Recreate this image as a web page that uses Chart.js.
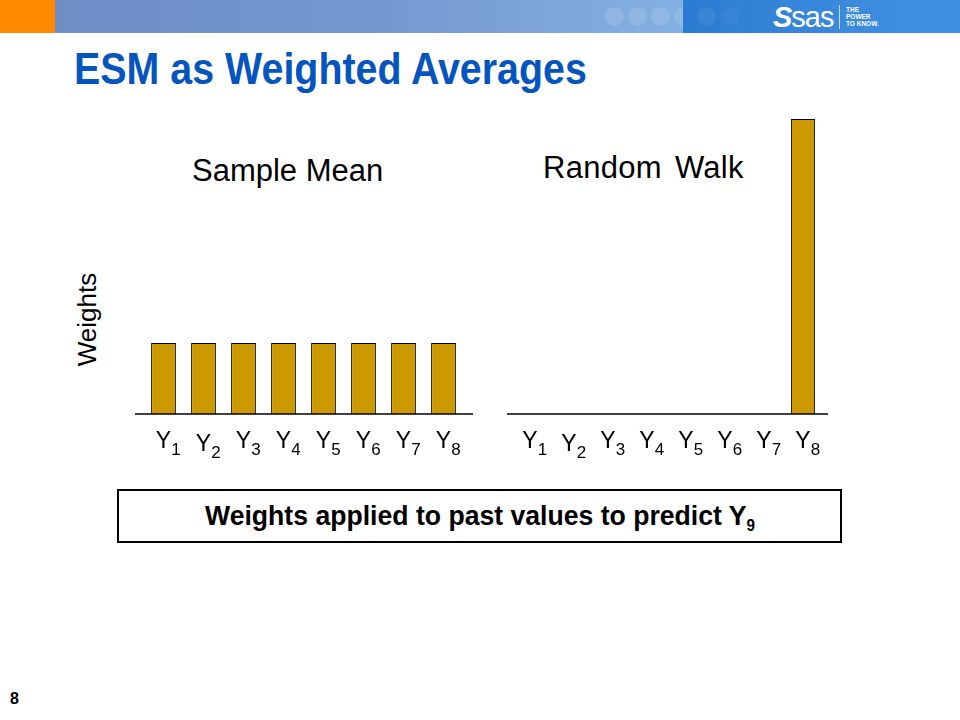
<!DOCTYPE html>
<html>
<head>
<meta charset="utf-8">
<script src="https://cdn.jsdelivr.net/npm/chart.js@4.4.1/dist/chart.umd.min.js"></script>
<style>
  body { margin: 0; width: 960px; height: 720px; background: #fff; position: relative; overflow: hidden;
         font-family: 'Liberation Sans', Arial, sans-serif; }
  .band { position: absolute; left: 0; top: 0; width: 960px; height: 33px;
          background: linear-gradient(90deg, #6b8bc3 0%, #7598d0 40%, #83b0e2 70%); }
  .band .orange { position: absolute; left: 0; top: 0; width: 55px; height: 33px; background: #ff8a00; }
  .band .bright { position: absolute; left: 683px; top: 0; width: 277px; height: 33px;
                  background: linear-gradient(90deg, #2b7bd2, #3a8ade 60%, #3f8fe2); }
  .band .dot { position: absolute; top: 7px; width: 19px; height: 19px; border-radius: 50%;
               background: rgba(255,255,255,0.12); }
  .logo { position: absolute; left: 773px; top: 1px; color: #fff; font-size: 29px; letter-spacing: -1px; }
  .logo .swirl { font-style: italic; font-weight: bold; }
  .tag { position: absolute; left: 846px; top: 6px; color: #fff; font-size: 6.5px; font-weight: bold; line-height: 7px; }
  .sep { position: absolute; left: 839px; top: 5px; width: 1px; height: 24px; background: rgba(255,255,255,0.7); }
  .title { position: absolute; left: 74px; top: 44px; font-size: 44px; font-weight: bold; color: #0555c0;
           transform: scaleX(0.895); transform-origin: left top; white-space: nowrap; }
  .sub { position: absolute; font-size: 31px; color: #000; white-space: nowrap; }
  .ylab { position: absolute; left: 62px; top: 304px; font-size: 26px; transform: rotate(-90deg);
          transform-origin: center; width: 120px; margin-left: -35px; text-align: center; }
  canvas { position: absolute; }
  .box { position: absolute; left: 117px; top: 489px; width: 721px; height: 50px; border: 2.5px solid #000; }
  .box span { position: absolute; left: 50%; top: 9px; font-weight: bold; font-size: 28px; white-space: nowrap;
              transform: translateX(-50%) scaleX(0.95); }
  .box sub { font-size: 16px; vertical-align: -6px; line-height: 0; }
  .page { position: absolute; left: 10px; top: 690px; font-weight: bold; font-size: 16px; }
</style>
</head>
<body>
<div class="band">
  <div class="orange"></div>
  <div class="dot" style="left:605px"></div>
  <div class="dot" style="left:628px"></div>
  <div class="dot" style="left:651px"></div>
  <div class="dot" style="left:674px"></div>
  <div class="bright"></div>
  <div class="dot" style="left:697px;background:rgba(255,255,255,0.06)"></div>
  <div class="dot" style="left:720px;background:rgba(255,255,255,0.04)"></div>
  <div class="logo"><span class="swirl">S</span>sas</div>
  <div class="sep"></div>
  <div class="tag">THE<br>POWER<br>TO KNOW.</div>
</div>
<div class="title">ESM as Weighted Averages</div>
<div class="sub" style="left:192px; top:153px">Sample Mean</div>
<div class="sub" style="left:543px; top:150px; word-spacing:4px; letter-spacing:0.3px">Random Walk</div>
<div class="ylab">Weights</div>

<canvas id="mean-chart" width="380" height="370" style="left:100px; top:100px"></canvas>
<canvas id="walk-chart" width="350" height="370" style="left:490px; top:100px"></canvas>

<div class="box"><span>Weights applied to past values to predict Y<sub>9</sub></span></div>
<div class="page">8</div>

<script>
// data
const categories = ['Y1', 'Y2', 'Y3', 'Y4', 'Y5', 'Y6', 'Y7', 'Y8'];
const meanWeights = [0.125, 0.125, 0.125, 0.125, 0.125, 0.125, 0.125, 0.125];
const walkWeights = [0, 0, 0, 0, 0, 0, 0, 1];

const BAR_COLOR = '#CC9900';

// draws the base line and the Y labels with subscripts
const baseAxis = {
    id: 'baseAxis',
    afterDraw(chart, args, opts) {
        const { ctx, chartArea, scales } = chart;
        const y0 = scales.y.getPixelForValue(0);
        ctx.save();
        ctx.strokeStyle = '#000';
        ctx.lineWidth = 1.5;
        ctx.beginPath();
        ctx.moveTo(chartArea.left - opts.extendLeft, y0);
        ctx.lineTo(chartArea.right + opts.extendRight, y0);
        ctx.stroke();

        ctx.fillStyle = '#000';
        ctx.textBaseline = 'alphabetic';
        chart.data.labels.forEach((label, i) => {
            const x = scales.x.getPixelForValue(i);
            const drop = i === 1 ? 3 : 0; // Y2 sits a bit lower on the slide
            ctx.font = '23px "Liberation Sans", Arial';
            ctx.textAlign = 'center';
            const letter = label[0];
            const w = ctx.measureText(letter).width;
            ctx.fillText(letter, x, y0 + 34 + drop);
            ctx.font = '17px "Liberation Sans", Arial';
            ctx.textAlign = 'left';
            ctx.fillText(label.slice(1), x + w / 2, y0 + 41 + drop);
        });
        ctx.restore();
    }
};

function makeChart(id, values, yMax, padding, extend) {
    return new Chart(document.getElementById(id), {
        type: 'bar',
        data: {
            labels: categories,
            datasets: [{
                data: values,
                backgroundColor: BAR_COLOR,
                borderColor: '#000',
                borderWidth: 1,
                barPercentage: 0.62,
                categoryPercentage: 1
            }]
        },
        options: {
            responsive: false,
            animation: false,
            layout: { padding },
            scales: {
                x: { display: false, offset: true },
                y: { display: false, min: 0, max: yMax }
            },
            plugins: {
                legend: { display: false },
                tooltip: { enabled: false },
                baseAxis: extend
            }
        },
        plugins: [baseAxis]
    });
}

makeChart('mean-chart', meanWeights, 0.52,
    { left: 43.5, right: 16.5, top: 19, bottom: 56 },
    { extendLeft: 8.5, extendRight: 9.5 });

makeChart('walk-chart', walkWeights, 1,
    { left: 20.5, right: 17.5, top: 19, bottom: 56 },
    { extendLeft: 3.5, extendRight: 5.5 });
</script>
</body>
</html>
